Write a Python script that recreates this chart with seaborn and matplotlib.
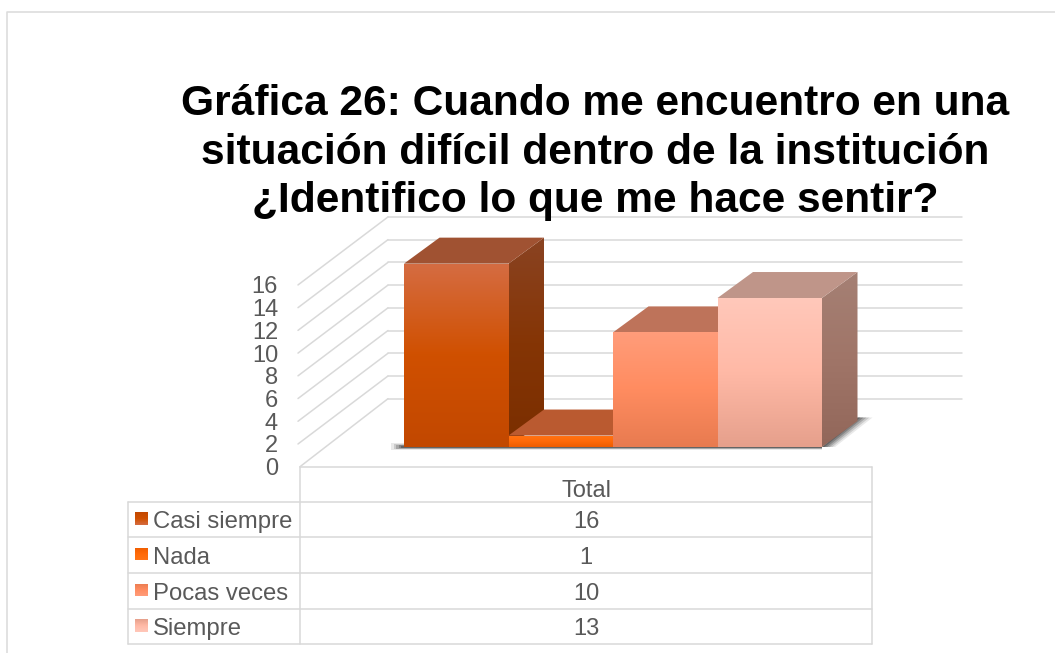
import numpy as np
import seaborn as sns
from matplotlib import pyplot as plt
from matplotlib.colors import to_rgb
from matplotlib.patches import Polygon, Rectangle

categories = ["Casi siempre", "Nada", "Pocas veces", "Siempre"]
values = [16, 1, 10, 13]
y_ticks = [0, 2, 4, 6, 8, 10, 12, 14, 16]
table_header = "Total"
title_lines = ["Gráfica 26: Cuando me encuentro en una",
               "situación difícil dentro de la institución",
               "¿Identifico lo que me hace sentir?"]

# top -> middle -> bottom of each face
front_colors = [["#D56C42", "#D05000", "#C24800"],
                ["#FF7416", "#FF6A08", "#EE5C00"],
                ["#FF9C7A", "#FF8C60", "#E87B50"],
                ["#FFC8BA", "#FFB9A6", "#E6A08C"]]
side_colors = [["#8A4322", "#853505", "#7A2E00"],
               ["#8A4322", "#853505", "#7A2E00"],
               ["#A06048", "#A06048", "#8E5038"],
               ["#A58074", "#A07568", "#92675A"]]
top_colors = ["#A05232", "#BA5A30", "#BE735A", "#BF9589"]

W, H = 1055, 653
GRID = "#D9D9D9"
TEXT = "#595959"
# bar front in picture pixels
BAR_LEFT, BAR_W, BAR_BASE, BAR_UNIT = 404.0, 104.5, 447.0, 11.46
DEPTH_X, DEPTH_Y = 35.5, 26.0
# walls
FRONT_X, FRONT_Y0, WALL_UNIT = 300.0, 466.7, 11.36
BACK_X, BACK_RIGHT, WALL_DX, WALL_DY = 388.0, 962.0, 88.0, 68.0
# table
ROWS_Y = [467.0, 501.5, 537.0, 573.0, 609.0, 644.0]
TABLE_L, TABLE_M, TABLE_R = 127.5, 300.0, 872.0
FONT = ["Liberation Sans", "DejaVu Sans"]

sns.set_theme(style="white")
plt.rcParams["font.family"] = FONT


def gradient(ax, verts, colors, zorder):
    """ polygon filled with a top-to-bottom colour ramp """
    verts = np.array(verts)
    rgb = np.array([to_rgb(c) for c in colors])
    t = np.linspace(0, 1, 64)
    ramp = np.stack([np.interp(t, [0, .5, 1], rgb[:, i]) for i in range(3)], axis=1)
    extent = (verts[:, 0].min(), verts[:, 0].max(), verts[:, 1].min(), verts[:, 1].max())
    im = ax.imshow(ramp[::-1, None, :], extent=extent, origin="lower", aspect="auto",
                   interpolation="bilinear", zorder=zorder)
    clip = Polygon(verts, closed=True, transform=ax.transData, fc="none", ec="none")
    ax.add_patch(clip)
    im.set_clip_path(clip)


fig = plt.figure(figsize=(W / 100, H / 100), dpi=100)

# pixel axes for walls and table
deco = fig.add_axes([0, 0, 1, 1], zorder=1)
deco.set_xlim(0, W)
deco.set_ylim(H, 0)
deco.axis("off")

# border of the picture
deco.plot([7, 7, W], [H, 12, 12], color="#DDDDDD", lw=1.2)

# walls
for t in y_ticks:
    y_front = FRONT_Y0 - t * WALL_UNIT
    deco.plot([FRONT_X - 2 * (t > 0), BACK_X], [y_front, y_front - WALL_DY], color=GRID, lw=1.1)
    deco.plot([BACK_X, BACK_RIGHT], [y_front - WALL_DY] * 2, color=GRID, lw=1.1)
    deco.text(278, y_front, str(t), ha="right", va="center_baseline", fontsize=17, color=TEXT)

# table
for y in ROWS_Y:
    deco.plot([TABLE_M if y == ROWS_Y[0] else TABLE_L, TABLE_R], [y, y], color=GRID, lw=1.1)
deco.plot([TABLE_M, TABLE_M], [ROWS_Y[0], ROWS_Y[-1]], color=GRID, lw=1.1)
deco.plot([TABLE_R, TABLE_R], [ROWS_Y[0], ROWS_Y[-1]], color=GRID, lw=1.1)
deco.plot([TABLE_L, TABLE_L], [ROWS_Y[1], ROWS_Y[-1]], color=GRID, lw=1.1)
TABLE_C = (TABLE_M + TABLE_R) / 2
deco.text(TABLE_C, (ROWS_Y[0] + ROWS_Y[1]) / 2 + 4, table_header, ha="center", va="center_baseline",
          fontsize=17, color=TEXT)
for i, (name, val) in enumerate(zip(categories, values)):
    yc = (ROWS_Y[i + 1] + ROWS_Y[i + 2]) / 2
    deco.text(153, yc, name, ha="left", va="center_baseline", fontsize=17.2, color=TEXT)
    deco.text(TABLE_C, yc, str(val), ha="center", va="center_baseline", fontsize=17, color=TEXT)
    s = 13
    gradient(deco, [(135, yc - s / 2 - 1), (135 + s, yc - s / 2 - 1), (135 + s, yc + s / 2 - 1), (135, yc + s / 2 - 1)],
             front_colors[i], 3)
deco.set_xlim(0, W)
deco.set_ylim(H, 0)

# title
for line, base in zip(title_lines, [115, 163.5, 212]):
    deco.text(595, base, line, ha="center", va="baseline", fontsize=30.6, fontweight="bold",
              color="black", zorder=10)

# bars: x and y limits chosen so that data lands on the picture pixels
ax = fig.add_axes([0, 0, 1, 1], zorder=2)
ax.patch.set_alpha(0)
df = {"cat": categories, "val": values}
sns.barplot(data=df, x="cat", y="val", hue="cat", order=categories, hue_order=categories,
            palette=[c[1] for c in front_colors], width=1.0, dodge=False, legend=False,
            linewidth=0, ax=ax)
bars = list(ax.patches)
xlim = ((0 - BAR_LEFT) / BAR_W - .5, (W - BAR_LEFT) / BAR_W - .5)
ylim = ((BAR_BASE - H) / BAR_UNIT, BAR_BASE / BAR_UNIT)
dx = DEPTH_X / BAR_W
dy = DEPTH_Y / BAR_UNIT

# soft shadow on the floor, stacked layers fade outwards
x0 = bars[0].get_x()
x1 = bars[-1].get_x() + bars[-1].get_width()
for grow, alpha in zip([1.0, .8, .6, .4, .2], [.1, .16, .22, .28, .34]):
    g = grow * 13 / BAR_W
    tip = grow * 15 / BAR_W
    up = (DEPTH_Y + 3.5) / BAR_UNIT
    ax.add_patch(Polygon([(x1, 0), (x1 + g, 0), (x1 + dx + tip, up), (x1 + dx, up)],
                         fc="#2A2A2A", ec="none", alpha=alpha, zorder=1))
    ax.add_patch(Rectangle((x0 - g, -grow * .22), x1 - x0 + g, grow * .55, fc="#2A2A2A", ec="none",
                           alpha=alpha, zorder=1))

for i, bar in enumerate(bars):
    bx0, bx1 = bar.get_x(), bar.get_x() + bar.get_width()
    top = bar.get_height()
    z = 2 + i * 3
    bar.set_zorder(z + 2)
    gradient(ax, [(bx1, 0), (bx1 + dx, dy), (bx1 + dx, top + dy), (bx1, top)], side_colors[i], z)
    ax.add_patch(Polygon([(bx0, top), (bx1, top), (bx1 + dx, top + dy), (bx0 + dx, top + dy)],
                         fc=top_colors[i], ec="none", zorder=z + 1))
    gradient(ax, [(bx0, 0), (bx1, 0), (bx1, top), (bx0, top)], front_colors[i], z + 2)

ax.set_xlim(*xlim)
ax.set_ylim(*ylim)
ax.axis("off")

fig.savefig("out.png", dpi=100, facecolor="white")
